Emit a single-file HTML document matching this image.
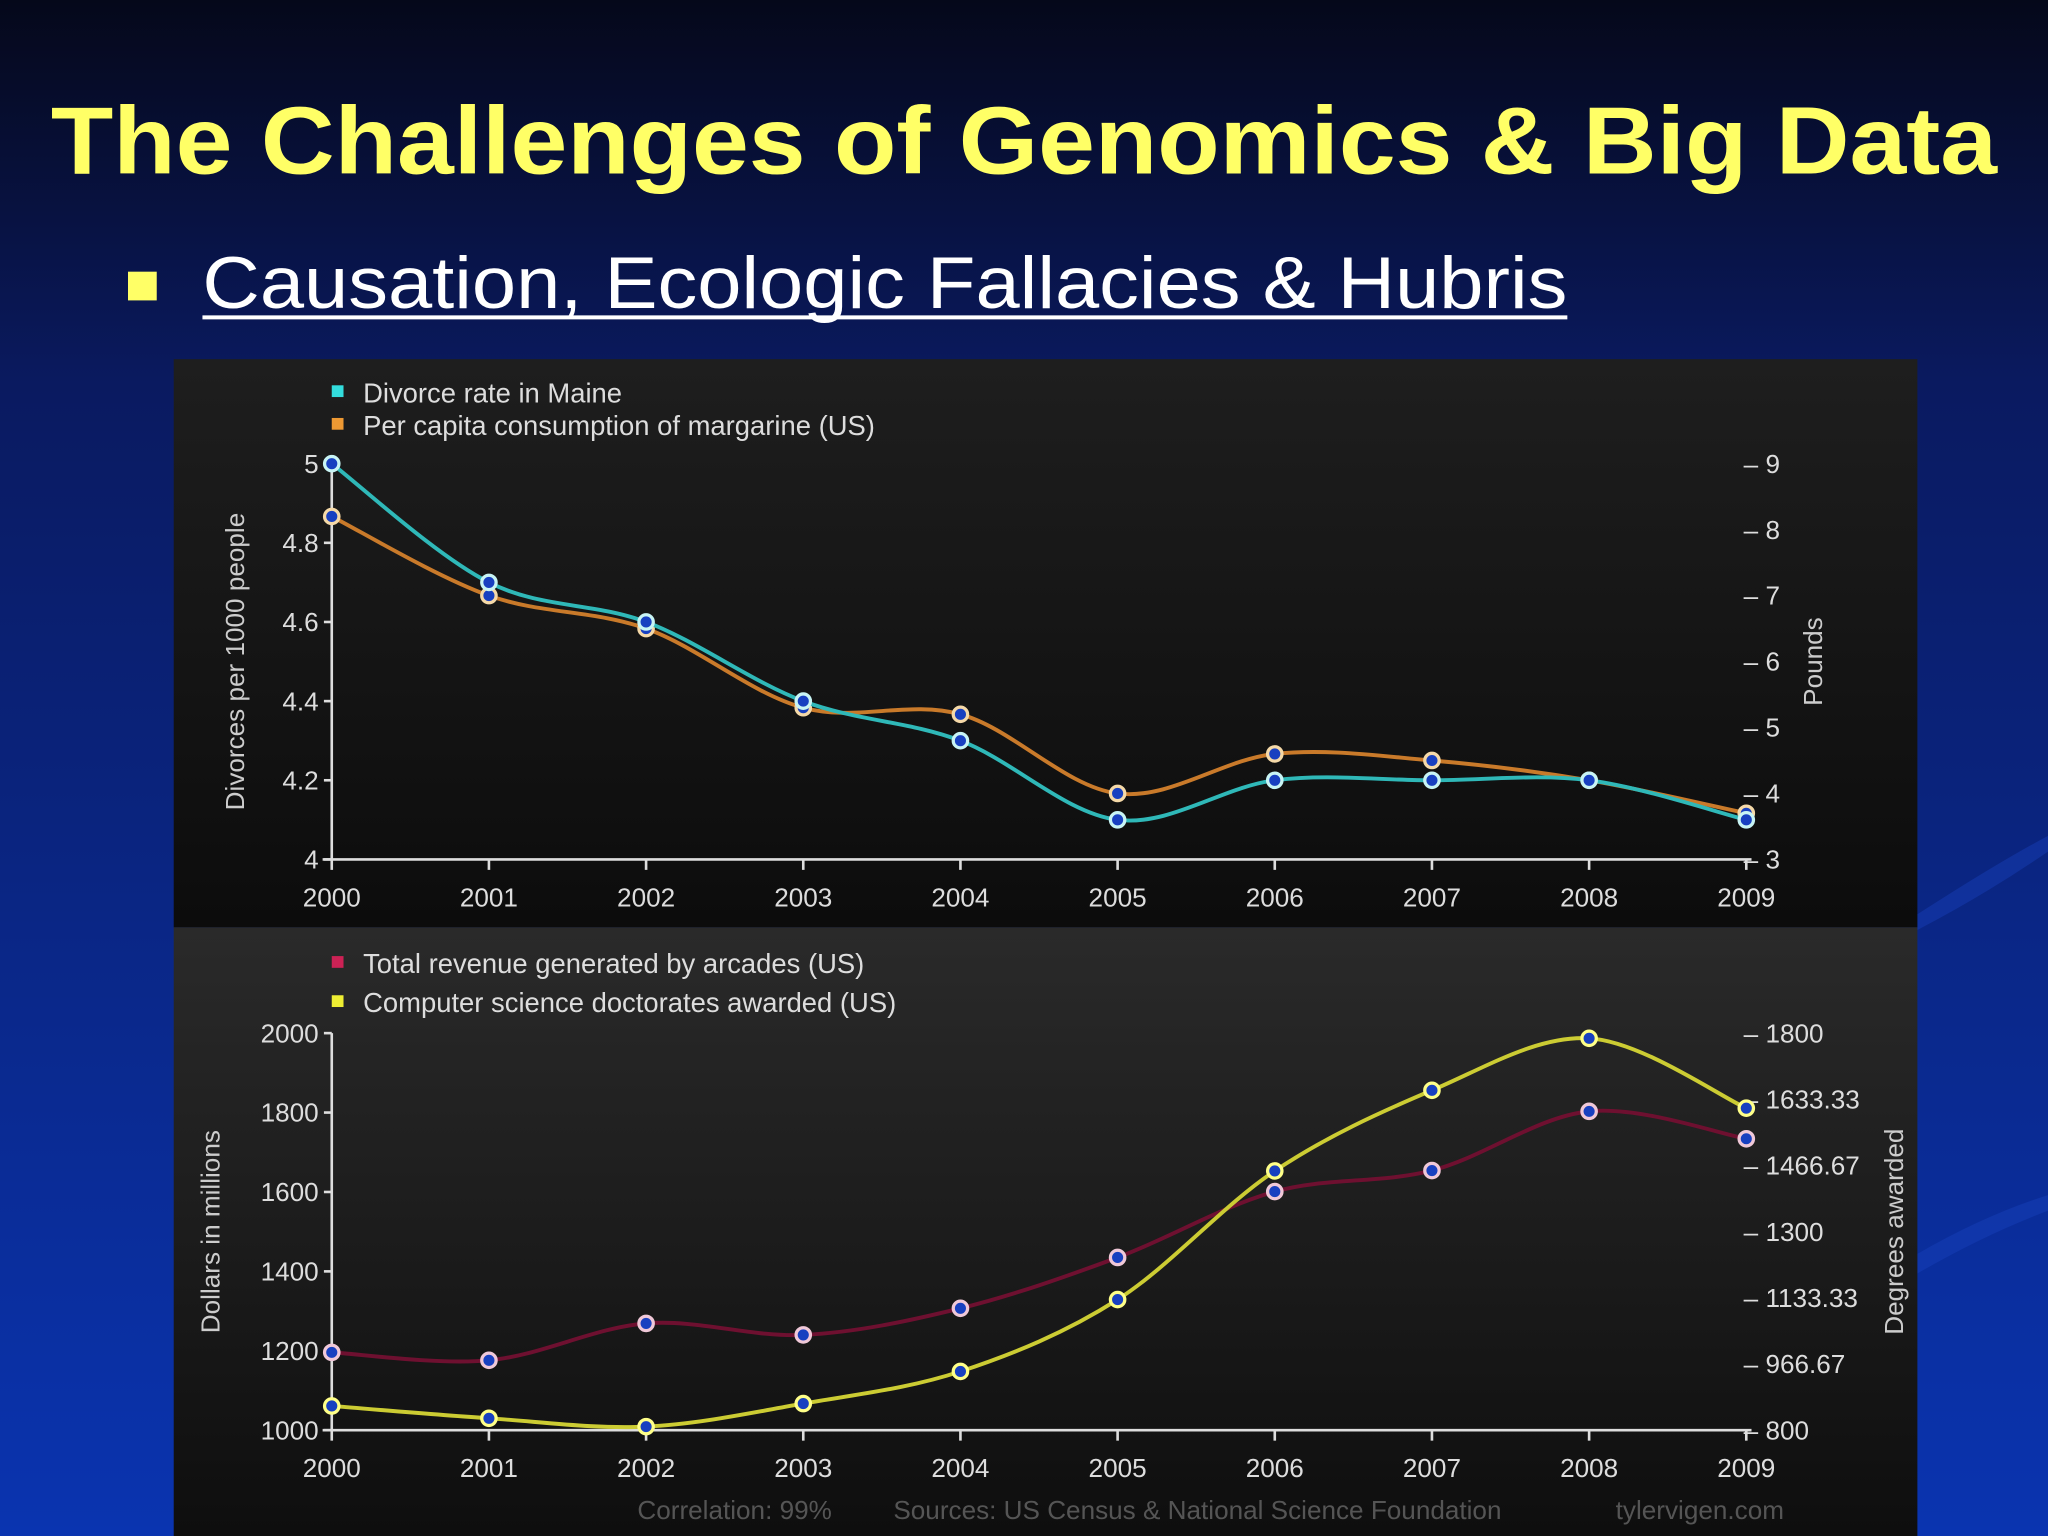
<!DOCTYPE html>
<html><head><meta charset="utf-8">
<style>
html,body{margin:0;padding:0;background:#0a1446;}
svg{display:block;}
text{font-family:"Liberation Sans",sans-serif;}
</style></head>
<body>
<svg id="s" width="2048" height="1536" viewBox="0 0 1568 1176" xmlns="http://www.w3.org/2000/svg">
<defs>
<linearGradient id="bg" x1="0" y1="0" x2="0" y2="1">
<stop offset="0" stop-color="#05081a"/><stop offset="0.25" stop-color="#0a1a60"/><stop offset="1" stop-color="#0a34b0"/>
</linearGradient>
<linearGradient id="p1" x1="0" y1="0" x2="0" y2="1">
<stop offset="0" stop-color="#1e1e1e"/><stop offset="1" stop-color="#0c0c0c"/>
</linearGradient>
<linearGradient id="p2" x1="0" y1="0" x2="0" y2="1">
<stop offset="0" stop-color="#2a2a2a"/><stop offset="1" stop-color="#0e0e0e"/>
</linearGradient>
</defs>
<rect x="0" y="0" width="1568" height="1176" fill="url(#bg)"/>
<path d="M1468 700 Q1530 660 1568 640 L1568 652 Q1520 685 1468 712 Z M1468 960 Q1520 930 1568 915 L1568 927 Q1520 945 1468 975 Z" fill="#1a44c0" opacity="0.4"/>
<text x="784" y="133" text-anchor="middle" font-size="73" font-weight="bold" fill="#ffff66" textLength="1490" lengthAdjust="spacingAndGlyphs">The Challenges of Genomics &amp; Big Data</text>
<rect x="98" y="208" width="22" height="22" fill="#ffff66"/>
<text x="155" y="236" font-size="56" fill="#ffffff" textLength="1045" lengthAdjust="spacingAndGlyphs">Causation, Ecologic Fallacies &amp; Hubris</text>
<line x1="155" y1="243" x2="1200" y2="243" stroke="#fff" stroke-width="3"/>
<rect x="133" y="275" width="1335" height="435" fill="url(#p1)"/>
<rect x="133" y="710" width="1335" height="466" fill="url(#p2)"/>
<g id="g"></g>
</svg>
<script>
const years = ["2000","2001","2002","2003","2004","2005","2006","2007","2008","2009"];
const divorce = [5, 4.7, 4.6, 4.4, 4.3, 4.1, 4.2, 4.2, 4.2, 4.1];
const margarine = [8.2, 7.0, 6.5, 5.3, 5.2, 4.0, 4.6, 4.5, 4.2, 3.7];
const arcades = [1196, 1176, 1269, 1240, 1307, 1435, 1601, 1654, 1803, 1734];
const doctorates = [861, 830, 809, 867, 948, 1129, 1453, 1656, 1787, 1611];
const topLeftTicks = ["4","4.2","4.4","4.6","4.8","5"];
const topRightTicks = ["3","4","5","6","7","8","9"];
const botLeftTicks = ["1000","1200","1400","1600","1800","2000"];
const botRightTicks = ["800","966.67","1133.33","1300","1466.67","1633.33","1800"];

const NS="http://www.w3.org/2000/svg";
const g=document.getElementById('g');
function mk(tag,attrs,parent){const e=document.createElementNS(NS,tag);for(const k in attrs)e.setAttribute(k,attrs[k]);(parent||g).appendChild(e);return e;}
const X0=254,X1=1337;
function xs(i){return X0+(X1-X0)*i/(years.length-1);}
function scale(d0,d1,r0,r1){return v=>r0+(v-d0)/(d1-d0)*(r1-r0);}
function smooth(pts){let d="M"+pts[0][0]+" "+pts[0][1];for(let i=0;i<pts.length-1;i++){const p0=pts[i-1]||pts[i],p1=pts[i],p2=pts[i+1],p3=pts[i+2]||p2;const c1=[p1[0]+(p2[0]-p0[0])/6,p1[1]+(p2[1]-p0[1])/6],c2=[p2[0]-(p3[0]-p1[0])/6,p2[1]-(p3[1]-p1[1])/6];d+=" C"+c1[0]+" "+c1[1]+" "+c2[0]+" "+c2[1]+" "+p2[0]+" "+p2[1];}return d;}

function chart(o){
  const yl=scale(o.lmin,o.lmax,o.yb,o.yt), yr=scale(o.rmin,o.rmax,o.yb,o.yt);
  o.legend.forEach((L,i)=>{
    const r=mk('rect',{x:254,y:L.y-13,width:9,height:9,fill:L.c});
    
    
    const t=mk('text',{x:278,y:L.y,'font-size':21,fill:'#dddddd'});t.textContent=L.t;
    
    
  });
  const ax=mk('path',{d:`M${X0} ${o.yt} L${X0} ${o.yb} M${X0-7} ${o.yb} L${X1+4} ${o.yb}`,stroke:'#dddddd','stroke-width':2,fill:'none'});
  
  
  o.lt.forEach((t,i)=>{const v=o.lmin+(o.lmax-o.lmin)*i/(o.lt.length-1);const y=yl(v);
    const tk=mk('line',{x1:X0-6,y1:y,x2:X0,y2:y,stroke:'#ddd','stroke-width':2});
    
    
    const tx=mk('text',{x:X0-10,y:y+7,'font-size':20,fill:'#dddddd','text-anchor':'end'});tx.textContent=t;
    
    });
  o.rt.forEach((t,i)=>{const v=o.rmin+(o.rmax-o.rmin)*i/(o.rt.length-1);const y=yr(v);
    const tx=mk('text',{x:1335,y:y+7,'font-size':20,fill:'#dddddd'});tx.textContent="– "+t;
    
    });
  years.forEach((yv,i)=>{const x=xs(i);
    const tk=mk('line',{x1:x,y1:o.yb,x2:x,y2:o.yb+8,stroke:'#ddd','stroke-width':2});
    
    
    const tx=mk('text',{x:x,y:o.yb+36,'font-size':20,fill:'#dddddd','text-anchor':'middle'});tx.textContent=yv;
    
    });
  const lt=mk('text',{x:0,y:0,'font-size':20,fill:'#cccccc','text-anchor':'middle',transform:`translate(${o.ltx},${(o.yt+o.yb)/2}) rotate(-90)`});lt.textContent=o.ltitle;
  
  
  const rtt=mk('text',{x:0,y:0,'font-size':20,fill:'#cccccc','text-anchor':'middle',transform:`translate(${o.rtx},${(o.yt+o.yb)/2}) rotate(-90)`});rtt.textContent=o.rtitle;
  
  
  o.series.forEach(S=>{
    const sc=S.axis==='l'?yl:yr;
    const pts=S.v.map((v,i)=>[xs(i),sc(v)]);
    const p=mk('path',{d:smooth(pts),stroke:S.c,'stroke-width':3,fill:'none'});
    
    
    pts.forEach((q,i)=>{const c=mk('circle',{cx:q[0],cy:q[1],r:5.5,fill:'#1840c0',stroke:S.m,'stroke-width':2.5});
      
      });
  });
}
chart({id:'top-chart',yt:355,yb:658,lmin:4,lmax:5,rmin:3,rmax:9,lt:topLeftTicks,rt:topRightTicks,ltx:187,rtx:1395,
  ltitle:'Divorces per 1000 people',rtitle:'Pounds',
  legend:[{y:308,c:'#33dddd',t:'Divorce rate in Maine',n:'divorce'},{y:333,c:'#ee9933',t:'Per capita consumption of margarine (US)',n:'margarine'}],
  series:[{v:margarine,axis:'r',c:'#c97a2a',m:'#f5d9a8',n:'margarine'},{v:divorce,axis:'l',c:'#2fb8b8',m:'#c8f4f4',n:'divorce'}]});
chart({id:'bottom-chart',yt:791,yb:1095,lmin:1000,lmax:2000,rmin:800,rmax:1800,lt:botLeftTicks,rt:botRightTicks,ltx:168,rtx:1457,
  ltitle:'Dollars in millions',rtitle:'Degrees awarded',
  legend:[{y:745,c:'#cc2255',t:'Total revenue generated by arcades (US)',n:'arcades'},{y:775,c:'#eeee33',t:'Computer science doctorates awarded (US)',n:'doctorates'}],
  series:[{v:arcades,axis:'l',c:'#6e1030',m:'#f0c8d8',n:'arcades'},{v:doctorates,axis:'r',c:'#cccc33',m:'#ffff88',n:'doctorates'}]});
const f1=mk('text',{x:488,y:1163,'font-size':20,fill:'#555555'});f1.textContent="Correlation: 99%";


const f2=mk('text',{x:684,y:1163,'font-size':20,fill:'#555555'});f2.textContent="Sources: US Census & National Science Foundation";


const f3=mk('text',{x:1237,y:1163,'font-size':20,fill:'#555555'});f3.textContent="tylervigen.com";


</script>
</body></html>
